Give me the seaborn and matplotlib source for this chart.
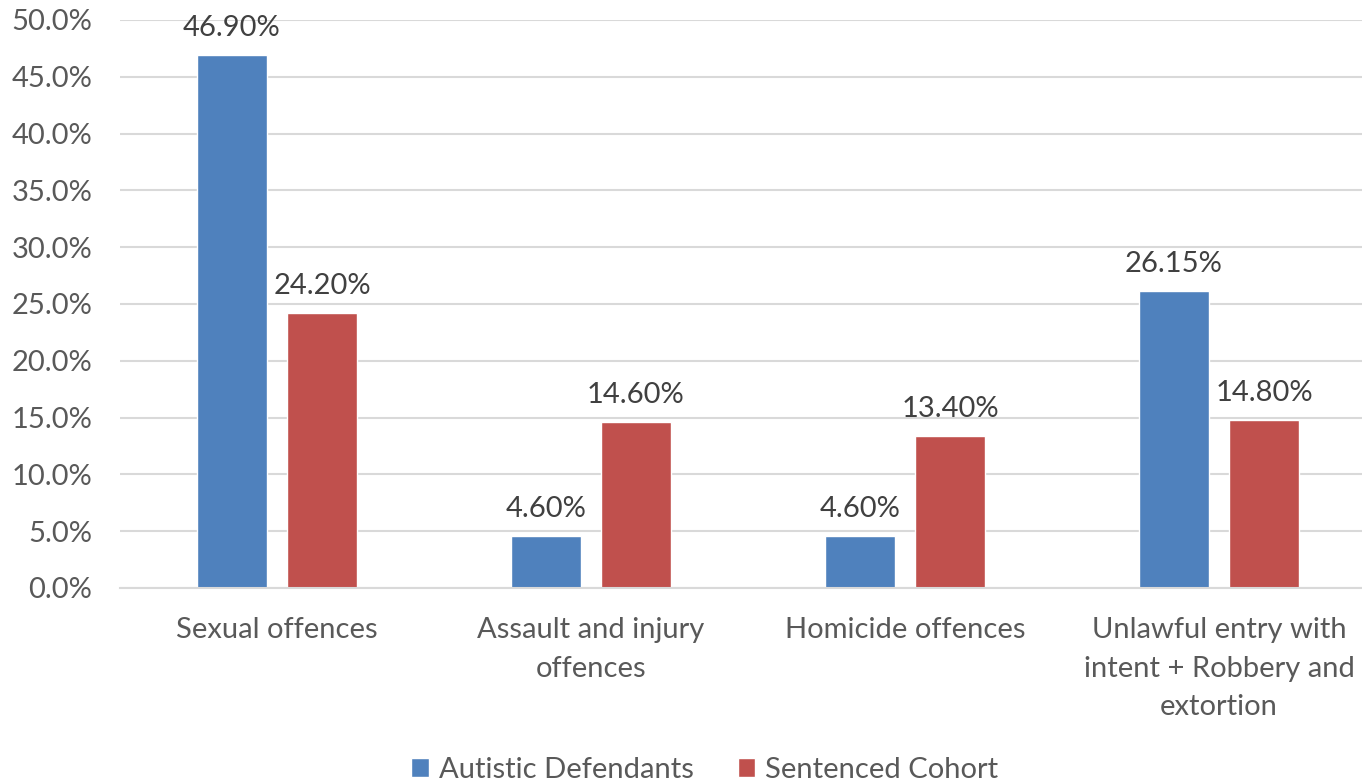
import matplotlib
matplotlib.use("Agg")
import matplotlib.pyplot as plt
import seaborn as sns
import pandas as pd
from matplotlib.ticker import FuncFormatter, MultipleLocator
from matplotlib.patches import Patch

categories = ["Sexual offences", "Assault and injury\noffences", "Homicide offences",
              "Unlawful entry with\nintent + Robbery and\nextortion"]
series = ["Autistic Defendants", "Sentenced Cohort"]
autistic = [46.90, 4.60, 4.60, 26.15]
sentenced = [24.20, 14.60, 13.40, 14.80]
colors = ["#4F81BD", "#C0504D"]

df = pd.DataFrame({
    "category": categories * 2,
    "series": [series[0]] * 4 + [series[1]] * 4,
    "value": autistic + sentenced,
})

sns.set_theme(style="white")
plt.rcParams["font.family"] = ["Lato", "DejaVu Sans"]
TXT = "#595959"
FS = 21

fig = plt.figure(figsize=(13.62, 7.83), dpi=100)
W, H = 1362, 783
ax = fig.add_axes([120 / W, 1 - 588 / H, 1256 / W, (588 - 20) / H])

sns.barplot(data=df, x="category", y="value", hue="series", order=categories,
            hue_order=series, palette=colors, width=0.573, gap=0.222,
            saturation=1, legend=False, ax=ax)

ax.set_xlim(-0.5, 3.5)
ax.set_ylim(0, 50)
ax.yaxis.set_major_locator(MultipleLocator(5))
ax.yaxis.set_major_formatter(FuncFormatter(lambda v, p: f"{v:.1f}%"))
ax.grid(axis="y", color="#D9D9D9", linewidth=1.5)
ax.set_axisbelow(True)
for s in ["top", "right", "left"]:
    ax.spines[s].set_visible(False)
ax.spines["bottom"].set_color("#D9D9D9")
ax.spines["bottom"].set_linewidth(1.5)
ax.set_xlabel("")
ax.set_ylabel("")
ax.tick_params(axis="both", length=0, labelsize=FS, labelcolor=TXT)
ax.tick_params(axis="y", pad=20)
ax.tick_params(axis="x", pad=21)
for lbl in ax.get_xticklabels():
    lbl.set_linespacing(1.6)

for cont in ax.containers:
    ax.bar_label(cont, labels=[f"{v:.2f}%" for v in cont.datavalues],
                 padding=10, fontsize=FS, color="#404040")

handles = [Patch(facecolor=c, label=s) for c, s in zip(colors, series)]
fig.legend(handles=handles, loc="center", bbox_to_anchor=(705 / W, 1 - 770 / H),
           ncol=2, frameon=False, fontsize=FS, labelcolor=TXT,
           handlelength=0.6, handleheight=0.6, handletextpad=0.35, columnspacing=1.5)

fig.savefig("out.png", dpi=100)
